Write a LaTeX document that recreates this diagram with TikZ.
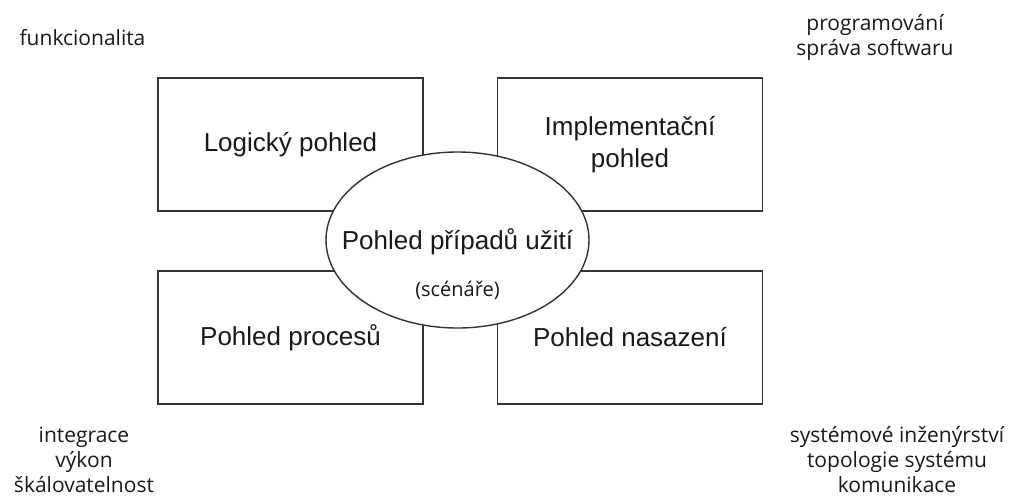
\documentclass[tikz,border=0pt]{standalone}
\usepackage{fontspec}
\setmainfont{Liberation Sans}
\newfontfamily\notefont{Open Sans}
\usetikzlibrary{shapes.geometric}
\begin{document}
\begin{tikzpicture}[x=1pt,y=-1pt,
  view/.style={draw=black!80, line width=1.6pt, fill=white,
    minimum width=265pt, minimum height=133pt, inner sep=0pt,
    font=\fontsize{26}{32}\selectfont, align=center, text=black!90},
  hub/.style={ellipse, draw=black!80, line width=1.4pt, fill=white,
    minimum width=263pt, minimum height=176pt, inner sep=0pt},
  hubtitle/.style={font=\fontsize{26}{32}\selectfont, text=black!90, inner sep=0pt},
  note/.style={font=\notefont\fontsize{21}{25}\selectfont, align=center,
    text=black!90, inner sep=0pt}]
\useasboundingbox (0,0) rectangle (1019,496);

% the four views
\node[view] (logical) at (290.5,144.5) {Logický pohled};
\node[view] (impl) at (630,144.5) {Implementační\\pohled};
\node[view] (process) at (290.5,337.5) {Pohled procesů};
\node[view] (deploy) at (630,337.5) {Pohled nasazení};

% central use-case view
\node[hub] (usecase) at (457.5,240) {};
\node[hubtitle] (uctitle) at (457.5,242) {Pohled případů užití};
\node[note, font=\notefont\fontsize{20}{24}\selectfont] (scenarios) at (457.5,290) {(scénáře)};

% concerns of each view
\node[note] (nlogical) at (82.5,38) {funkcionalita};
\node[note] (nimpl) at (875,37.5) {programování\\správa softwaru};
\node[note] (nprocess) at (84,460) {integrace\\výkon\\škálovatelnost};
\node[note] (ndeploy) at (897,460) {systémové inženýrství\\topologie systému\\komunikace};
\end{tikzpicture}
\end{document}
